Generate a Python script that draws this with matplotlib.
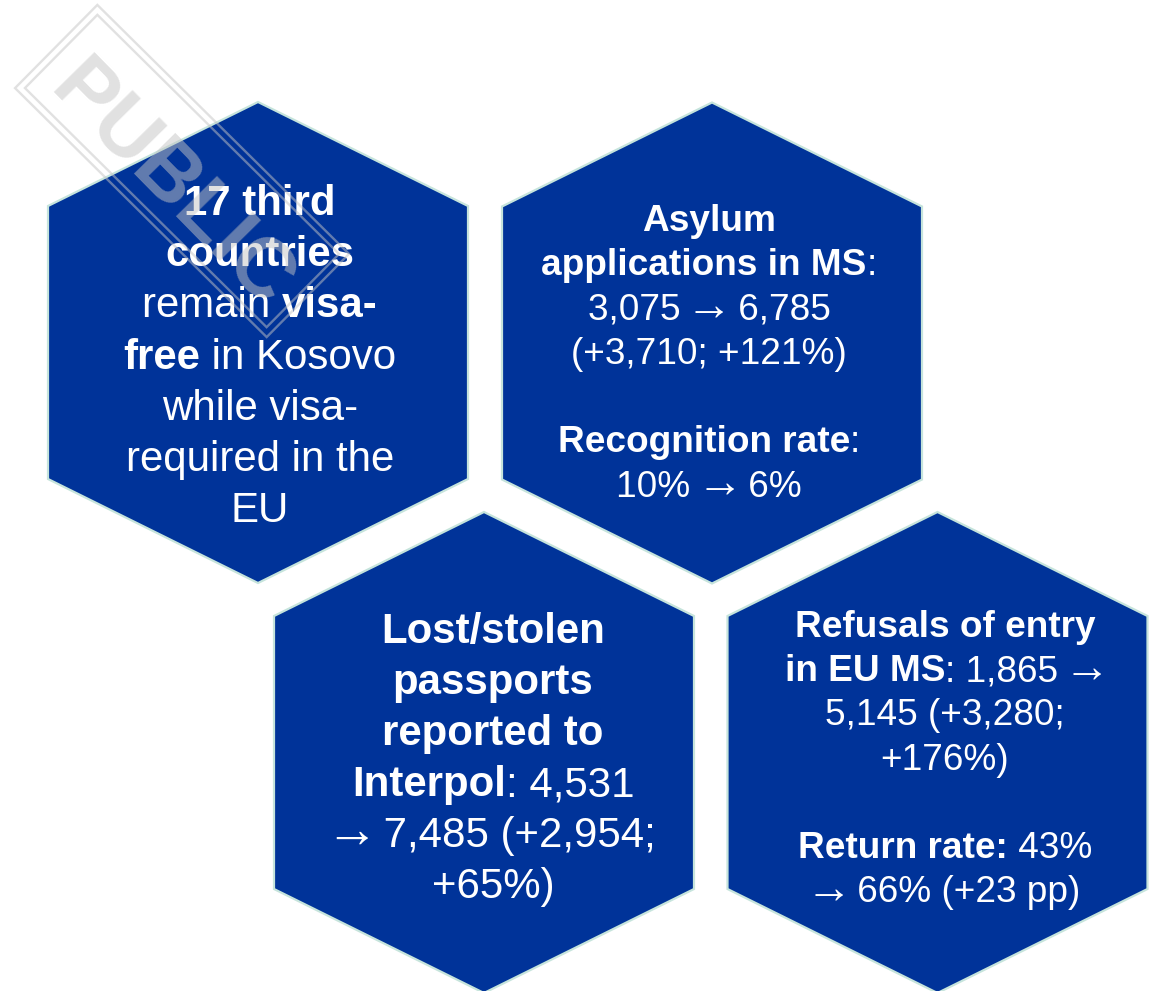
import matplotlib
matplotlib.use("Agg")
import matplotlib.pyplot as plt
from matplotlib.patches import Polygon
from matplotlib.font_manager import FontProperties
import numpy as np

# ---------------- data ----------------
visa_free_countries = 17
asylum_apps = [3075, 6785]
recognition_rate = [10, 6]
lost_passports = [4531, 7485]
refusals_entry = [1865, 5145]
return_rate = [43, 66]


def pct(a, b):
    return round((b - a) / a * 100)


ARROW = "\u2192"

hex1_lines = [
    [(f"{visa_free_countries} third", True)],
    [("countries", True)],
    [("remain ", False), ("visa-", True)],
    [("free", True), (" in Kosovo", False)],
    [("while visa-", False)],
    [("required in the", False)],
    [("EU", False)],
]
hex2_lines = [
    [("Asylum", True)],
    [("applications in MS", True), (":", False)],
    [(f"{asylum_apps[0]:,} {ARROW} {asylum_apps[1]:,}", False)],
    [(f"(+{asylum_apps[1]-asylum_apps[0]:,}; +{pct(*asylum_apps)}%)", False)],
    [],
    [("Recognition rate", True), (":", False)],
    [(f"{recognition_rate[0]}% {ARROW} {recognition_rate[1]}%", False)],
]
hex3_lines = [
    [("Lost/stolen", True)],
    [("passports", True)],
    [("reported to", True)],
    [("Interpol", True), (f": {lost_passports[0]:,}", False)],
    [(f"{ARROW} {lost_passports[1]:,} (+{lost_passports[1]-lost_passports[0]:,};", False)],
    [(f"+{pct(*lost_passports)}%)", False)],
]
hex4_lines = [
    [("Refusals of entry", True)],
    [("in EU MS", True), (f": {refusals_entry[0]:,} {ARROW}", False)],
    [(f"{refusals_entry[1]:,} (+{refusals_entry[1]-refusals_entry[0]:,};", False)],
    [(f"+{pct(*refusals_entry)}%)", False)],
    [],
    [("Return rate:", True), (f" {return_rate[0]}%", False)],
    [(f"{ARROW} {return_rate[1]}% (+{return_rate[1]-return_rate[0]} pp)", False)],
]

# ---------------- layout ----------------
W, H, DPI = 1158, 991, 100
FILL = "#003399"
EDGE = "#c6e4dc"
FAM = ["Liberation Sans", "DejaVu Sans"]

hexes = [
    dict(c=(258, 342.5), tx=260, y0=215, step=51.2, fpx=42.0, lines=hex1_lines),
    dict(c=(712, 343.0), tx=709, y0=231, step=44.3, fpx=37.0, lines=hex2_lines),
    dict(c=(484, 752.5), tx=493, y0=643, step=51.0, fpx=42.0, lines=hex3_lines),
    dict(c=(937.5, 752.5), tx=945, y0=637, step=44.2, fpx=37.0, lines=hex4_lines),
]
HW, HH, SH = 210, 240.5, 136.5
ARROW_SCALE = 1.25

fig = plt.figure(figsize=(W / DPI, H / DPI), dpi=DPI)
ax = fig.add_axes([0, 0, 1, 1])
ax.set_xlim(0, W)
ax.set_ylim(H, 0)
ax.axis("off")

renderer = fig.canvas.get_renderer()


def adv(s, prop):
    w1, _, _ = renderer.get_text_width_height_descent("|" + s + "|", prop, ismath=False)
    w0, _, _ = renderer.get_text_width_height_descent("||", prop, ismath=False)
    return w1 - w0


def pieces(line):
    """split segments so that arrows become their own pieces"""
    out = []
    for s, b in line:
        parts = s.split(ARROW)
        for k, p in enumerate(parts):
            if p:
                out.append((p, b, False))
            if k < len(parts) - 1:
                out.append((ARROW, b, True))
    return out


for hx in hexes:
    cx, cy = hx["c"]
    verts = [(cx, cy - HH), (cx + HW, cy - SH), (cx + HW, cy + SH),
             (cx, cy + HH), (cx - HW, cy + SH), (cx - HW, cy - SH)]
    ax.add_patch(Polygon(verts, closed=True, facecolor=FILL, edgecolor=EDGE,
                         linewidth=1.6, zorder=1))
    fpt = hx["fpx"] * 72 / DPI
    pr = FontProperties(family=FAM, weight="normal", size=fpt)
    pb = FontProperties(family=FAM, weight="bold", size=fpt)
    pa = FontProperties(family=FAM, weight="normal", size=fpt * ARROW_SCALE)
    for i, line in enumerate(hx["lines"]):
        if not line:
            continue
        y = hx["y0"] + i * hx["step"]
        ps = pieces(line)
        widths = [hx["fpx"] if a else adv(s, pb if b else pr) for s, b, a in ps]
        x = hx["tx"] - sum(widths) / 2
        for (s, b, a), w in zip(ps, widths):
            if a:
                ax.text(x + w / 2, y, s, fontproperties=pa, color="white",
                        ha="center", va="baseline", zorder=2)
            else:
                ax.text(x, y, s, fontproperties=pb if b else pr, color="white",
                        ha="left", va="baseline", zorder=2)
            x += w

# ---------------- watermark stamp ----------------
WM_COL = "#c4c4c4"
WM_ALPHA = 0.5
wc = np.array([182.0, 171.0])
ang = np.deg2rad(44.7)
u = np.array([np.cos(ang), np.sin(ang)])
v = np.array([-np.sin(ang), np.cos(ang)])
for L, Wd in [(354, 117), (340, 103)]:
    pts = [wc - L / 2 * u - Wd / 2 * v, wc + L / 2 * u - Wd / 2 * v,
           wc + L / 2 * u + Wd / 2 * v, wc - L / 2 * u + Wd / 2 * v]
    ax.add_patch(Polygon(pts, closed=True, fill=False, edgecolor=WM_COL,
                         alpha=WM_ALPHA, linewidth=1.7, zorder=3))
tc = wc + 3 * u + 18 * v
ax.text(tc[0], tc[1], "PUBLIC", fontsize=83 * 72 / DPI, family=FAM,
        fontweight="bold", color=WM_COL, alpha=WM_ALPHA, rotation=-45.5,
        rotation_mode="anchor", ha="center", va="center", zorder=3)

fig.savefig("out.png", dpi=DPI, facecolor="white")
